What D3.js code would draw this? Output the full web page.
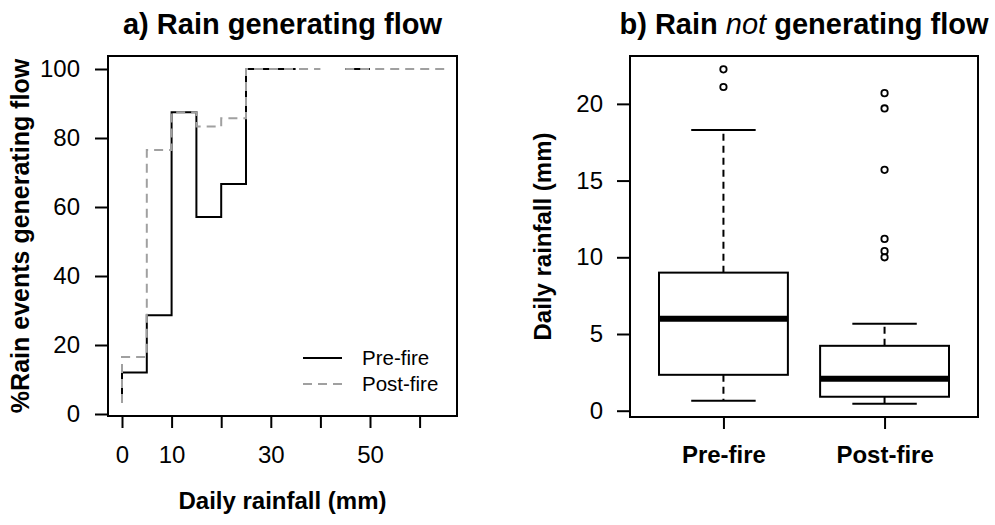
<!DOCTYPE html>
<html>
<head>
<meta charset="utf-8">
<script src="https://cdn.jsdelivr.net/npm/d3@7"></script>
<style>
  body { margin: 0; background: #fff; }
  svg { font-family: "Liberation Sans", Arial, sans-serif; }
</style>
</head>
<body>
<svg id="chart" width="995" height="525"></svg>
<script>
// panel a: share of rain events generating flow per 5 mm rainfall bin
// bin i spans binEdges[i] .. binEdges[i + 1] (first bin has zero width)
var binEdges = [0, 0, 5, 10, 15, 20, 25, 30, 35, 40, 45, 50, 55, 60, 65];
var preFire = [4.5, 12, 28.6, 87.5, 57.1, 66.7, 100, 100, null, null, 100, null, null, null];
var postFire = [3.2, 16.5, 76.5, 87.5, 83.3, 85.7, 100, 100, 100, null, 100, 100, 100, 100];
var xTicksA = [0, 10, 20, 30, 40, 50, 60];
var xLabelsA = [0, 10, 30, 50];
var yTicksA = [0, 20, 40, 60, 80, 100];

// panel b: daily rainfall of events not generating flow (box plot stats)
var groups = ["Pre-fire", "Post-fire"];
var whiskerLow = [0.65, 0.46];
var q1 = [2.34, 0.91];
var median = [6.0, 2.08];
var q3 = [9.0, 4.23];
var whiskerHigh = [18.3, 5.66];
var outliers = [[21.1, 22.25], [10.0, 10.4, 11.2, 15.7, 19.7, 20.7]];
var yTicksB = [0, 5, 10, 15, 20];

var svg = d3.select("#chart");
var grey = "#a0a0a0";

// ---------- panel a ----------
var boxA = { left: 108, right: 457, top: 56, bottom: 416 };
var xA = d3.scaleLinear().domain([0, 60]).range([122, 419.6]);
var yA = d3.scaleLinear().domain([0, 100]).range([414, 69]);

function stepPoints(values) {
  var pts = [];
  values.forEach(function (v, i) {
    if (v == null) { pts.push(null); return; }
    pts.push([binEdges[i], v]);
    pts.push([binEdges[i + 1], v]);
  });
  return pts;
}

var line = d3.line()
  .defined(function (d) { return d != null; })
  .x(function (d) { return xA(d[0]); })
  .y(function (d) { return yA(d[1]); });

var gA = svg.append("g");

gA.append("path")
  .datum(stepPoints(preFire))
  .attr("d", line)
  .attr("fill", "none")
  .attr("stroke", "#000")
  .attr("stroke-width", 2);

gA.append("path")
  .datum(stepPoints(postFire))
  .attr("d", line)
  .attr("fill", "none")
  .attr("stroke", grey)
  .attr("stroke-width", 2)
  .attr("stroke-dasharray", "9,6");

gA.append("rect")
  .attr("x", boxA.left).attr("y", boxA.top)
  .attr("width", boxA.right - boxA.left).attr("height", boxA.bottom - boxA.top)
  .attr("fill", "none").attr("stroke", "#000").attr("stroke-width", 2);

var axisA = d3.axisLeft(yA).tickValues(yTicksA).tickSize(13).tickPadding(15);
gA.append("g")
  .attr("transform", "translate(" + boxA.left + ",0)")
  .call(axisA)
  .call(function (g) { g.select(".domain").remove(); });

var axisAx = d3.axisBottom(xA).tickValues(xTicksA).tickSize(12).tickPadding(18)
  .tickFormat(function (d) { return xLabelsA.indexOf(d) >= 0 ? d : ""; });
gA.append("g")
  .attr("transform", "translate(0," + boxA.bottom + ")")
  .call(axisAx)
  .call(function (g) { g.select(".domain").remove(); });

gA.append("text")
  .attr("x", (boxA.left + boxA.right) / 2).attr("y", 34)
  .attr("text-anchor", "middle")
  .attr("font-size", 29).attr("font-weight", "bold")
  .text("a) Rain generating flow");

gA.append("text")
  .attr("x", (boxA.left + boxA.right) / 2).attr("y", 509)
  .attr("text-anchor", "middle")
  .attr("font-size", 24).attr("font-weight", "bold")
  .text("Daily rainfall (mm)");

gA.append("text")
  .attr("transform", "translate(29," + (boxA.top + boxA.bottom) / 2 + ") rotate(-90)")
  .attr("text-anchor", "middle")
  .attr("font-size", 25).attr("font-weight", "bold")
  .text("%Rain events generating flow");

// legend
var legend = gA.append("g");
[["Pre-fire", "#000", null, 358], ["Post-fire", grey, "9,6", 384]].forEach(function (l) {
  legend.append("line")
    .attr("x1", 303).attr("x2", 342).attr("y1", l[3]).attr("y2", l[3])
    .attr("stroke", l[1]).attr("stroke-width", 2)
    .attr("stroke-dasharray", l[2]);
  legend.append("text")
    .attr("x", 362).attr("y", l[3]).attr("dy", "0.36em")
    .attr("font-size", 20.5)
    .text(l[0]);
});

// ---------- panel b ----------
var boxB = { left: 630, right: 978, top: 56, bottom: 417 };
var xB = d3.scaleLinear().domain([0.42, 2.58]).range([boxB.left, boxB.right]);
var yB = d3.scaleLinear().domain([-0.41, 23.12]).range([boxB.bottom, boxB.top]);

var gB = svg.append("g");

var stats = groups.map(function (name, i) {
  return { name: name, pos: i + 1, lo: whiskerLow[i], q1: q1[i], med: median[i], q3: q3[i], hi: whiskerHigh[i], out: outliers[i] };
});

var bx = gB.selectAll(".box")
  .data(stats)
  .enter()
  .append("g")
  .attr("class", "box");

// whiskers
bx.append("line")
  .attr("x1", function (d) { return xB(d.pos); }).attr("x2", function (d) { return xB(d.pos); })
  .attr("y1", function (d) { return yB(d.q3); }).attr("y2", function (d) { return yB(d.hi); })
  .attr("stroke", "#000").attr("stroke-width", 2).attr("stroke-dasharray", "7,5");
bx.append("line")
  .attr("x1", function (d) { return xB(d.pos); }).attr("x2", function (d) { return xB(d.pos); })
  .attr("y1", function (d) { return yB(d.q1); }).attr("y2", function (d) { return yB(d.lo); })
  .attr("stroke", "#000").attr("stroke-width", 2).attr("stroke-dasharray", "7,5");
["lo", "hi"].forEach(function (k) {
  bx.append("line")
    .attr("x1", function (d) { return xB(d.pos - 0.2); }).attr("x2", function (d) { return xB(d.pos + 0.2); })
    .attr("y1", function (d) { return yB(d[k]); }).attr("y2", function (d) { return yB(d[k]); })
    .attr("stroke", "#000").attr("stroke-width", 2);
});

bx.append("rect")
  .attr("x", function (d) { return xB(d.pos - 0.4); })
  .attr("width", function (d) { return xB(d.pos + 0.4) - xB(d.pos - 0.4); })
  .attr("y", function (d) { return yB(d.q3); })
  .attr("height", function (d) { return yB(d.q1) - yB(d.q3); })
  .attr("fill", "#fff").attr("stroke", "#000").attr("stroke-width", 2);

bx.append("line")
  .attr("x1", function (d) { return xB(d.pos - 0.4); }).attr("x2", function (d) { return xB(d.pos + 0.4); })
  .attr("y1", function (d) { return yB(d.med); }).attr("y2", function (d) { return yB(d.med); })
  .attr("stroke", "#000").attr("stroke-width", 6);

bx.selectAll(".out")
  .data(function (d) { return d.out.map(function (v) { return { pos: d.pos, v: v }; }); })
  .enter()
  .append("circle")
  .attr("cx", function (d) { return xB(d.pos); })
  .attr("cy", function (d) { return yB(d.v); })
  .attr("r", 3.2)
  .attr("fill", "none").attr("stroke", "#000").attr("stroke-width", 1.8);

gB.append("rect")
  .attr("x", boxB.left).attr("y", boxB.top)
  .attr("width", boxB.right - boxB.left).attr("height", boxB.bottom - boxB.top)
  .attr("fill", "none").attr("stroke", "#000").attr("stroke-width", 2);

gB.append("g")
  .attr("transform", "translate(" + boxB.left + ",0)")
  .call(d3.axisLeft(yB).tickValues(yTicksB).tickSize(13).tickPadding(14))
  .call(function (g) { g.select(".domain").remove(); });

gB.append("g")
  .attr("transform", "translate(0," + boxB.bottom + ")")
  .call(d3.axisBottom(xB).tickValues([1, 2]).tickSize(12).tickPadding(17)
    .tickFormat(function (d) { return groups[d - 1]; }))
  .call(function (g) {
    g.select(".domain").remove();
    g.selectAll("text").attr("font-weight", "bold");
  });

var titleB = gB.append("text")
  .attr("x", (boxB.left + boxB.right) / 2).attr("y", 34)
  .attr("text-anchor", "middle")
  .attr("font-size", 29).attr("font-weight", "bold");
titleB.append("tspan").text("b) Rain ");
titleB.append("tspan").attr("font-style", "italic").attr("font-weight", "normal").text("not");
titleB.append("tspan").text(" generating flow");

gB.append("text")
  .attr("transform", "translate(551," + (boxB.top + boxB.bottom) / 2 + ") rotate(-90)")
  .attr("text-anchor", "middle")
  .attr("font-size", 24).attr("font-weight", "bold")
  .text("Daily rainfall (mm)");

// shared axis styling
svg.selectAll(".tick line").attr("stroke", "#000").attr("stroke-width", 2);
svg.selectAll(".tick text")
  .attr("font-size", 24)
  .attr("fill", "#000")
  .attr("font-family", "'Liberation Sans', Arial, sans-serif");
</script>
</body>
</html>
